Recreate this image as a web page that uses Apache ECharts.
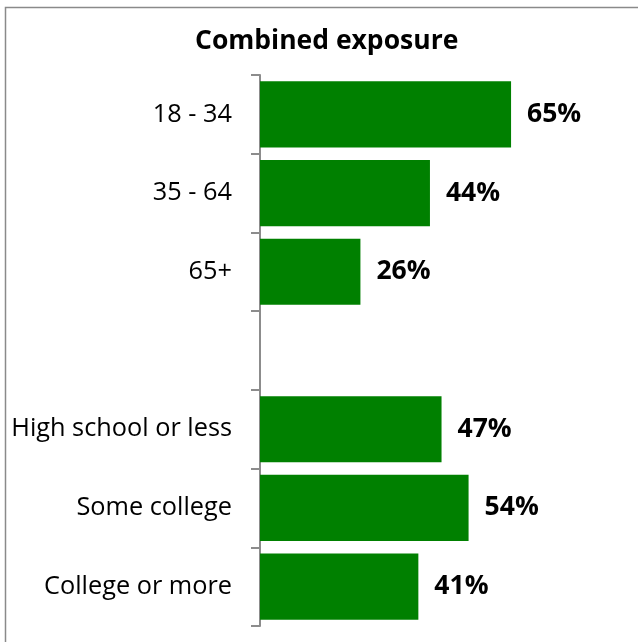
<!DOCTYPE html>
<html>
<head>
<meta charset="utf-8">
<script src="https://cdn.jsdelivr.net/npm/echarts@6/dist/echarts.min.js"></script>
<style>
  html, body { margin: 0; padding: 0; background: #fff; }
  #chart { width: 638px; height: 642px; }
</style>
</head>
<body>
<div id="chart"></div>
<script>
// Share with combined exposure, by age group and by education (empty slot separates the groups)
const categories = ['18 - 34', '35 - 64', '65+', '', 'High school or less', 'Some college', 'College or more'];
const shares = [65, 44, 26, null, 47, 54, 41];
const titleText = 'Combined exposure';

const chart = echarts.init(document.getElementById('chart'));
const fontFamily = '"Open Sans", Lato, sans-serif';

chart.setOption({
  animation: false,
  backgroundColor: '#ffffff',
  title: {
    text: titleText,
    left: 195,
    top: 28,
    padding: 0,
    textStyle: { fontFamily, fontSize: 26.5, fontWeight: 'bold', color: '#000' }
  },
  graphic: [{
    type: 'rect',
    shape: { x: 5.5, y: 7.5, width: 660, height: 660 },
    style: { fill: 'none', stroke: '#8a8a8a', lineWidth: 1.5 },
    silent: true
  }],
  grid: { left: 260, top: 75, width: 309, height: 551, containLabel: false },
  xAxis: {
    type: 'value',
    min: 0,
    max: 80,
    show: false
  },
  yAxis: {
    type: 'category',
    data: categories,
    inverse: true,
    axisLine: { show: true, lineStyle: { color: '#8c8c8c', width: 2 } },
    axisTick: { show: true, length: 9, lineStyle: { color: '#8c8c8c', width: 2 } },
    axisLabel: { margin: 28, fontFamily, fontSize: 25.3, color: '#000' },
    splitLine: { show: false }
  },
  series: [{
    type: 'bar',
    data: shares.map(v => (v === null ? '-' : v)),
    barCategoryGap: '16%',
    itemStyle: { color: '#008000' },
    label: {
      show: true,
      position: 'right',
      distance: 16,
      formatter: p => p.value + '%',
      fontFamily,
      fontSize: 26.5,
      fontWeight: 'bold',
      color: '#000'
    }
  }]
});
</script>
</body>
</html>
